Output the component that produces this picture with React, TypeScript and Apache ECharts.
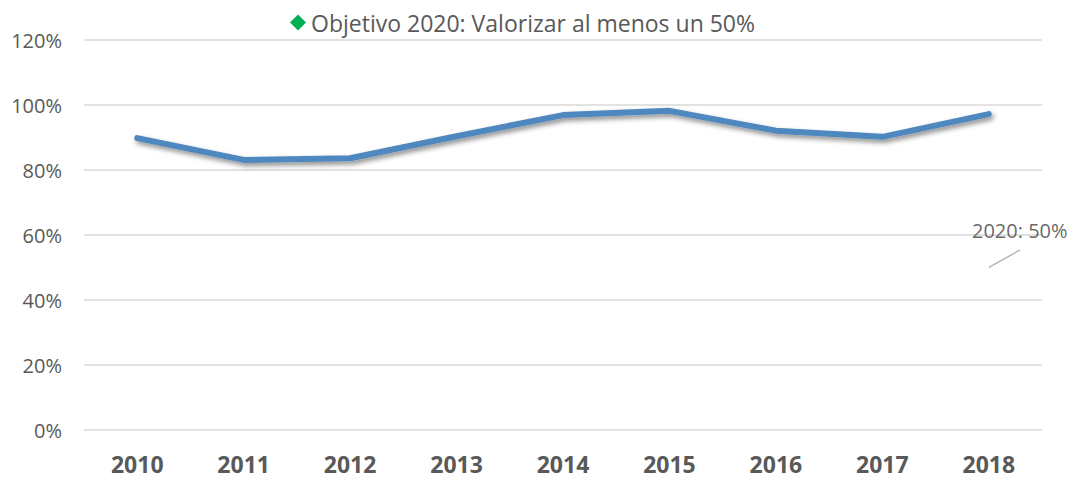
import React, { useEffect, useRef } from "react";
import * as echarts from "echarts";

const years = ["2010", "2011", "2012", "2013", "2014", "2015", "2016", "2017", "2018"];
const valorizacion = [89.8, 83.1, 83.6, 90.4, 96.9, 98.2, 92.1, 90.2, 97.2];
const objetivoName = "Objetivo 2020: Valorizar al menos un 50%";
const objetivo = [null, null, null, null, null, null, null, null, 50];
const yTicks = { min: 0, max: 120, interval: 20 };

export default function App() {
  const ref = useRef<HTMLDivElement>(null);
  useEffect(() => {
    document.body.style.margin = "0";
    const chart = echarts.init(ref.current!, null, { renderer: "svg" });
    const font = "'Open Sans', sans-serif";
    chart.setOption({
      animation: false,
      backgroundColor: "#ffffff",
      textStyle: { fontFamily: font },
      legend: {
        top: 6,
        left: 285,
        itemWidth: 16,
        itemHeight: 16,
        itemGap: 4,
        textStyle: { fontSize: 23, color: "#595959", fontFamily: font },
        data: [{ name: objetivoName, icon: "diamond", itemStyle: { color: "#00b050", opacity: 1 } }],
      },
      grid: { left: 84, right: 37, top: 40, bottom: 49, containLabel: false },
      xAxis: {
        type: "category",
        data: years,
        boundaryGap: true,
        axisLine: { show: false },
        axisTick: { show: false },
        axisLabel: { color: "#595959", fontSize: 23, fontWeight: "bold", margin: 22, fontFamily: font },
      },
      yAxis: {
        type: "value",
        min: yTicks.min,
        max: yTicks.max,
        interval: yTicks.interval,
        axisLabel: { formatter: "{value}%", color: "#595959", fontSize: 20, margin: 22, fontFamily: font },
        splitLine: { lineStyle: { color: "#d9d9d9", width: 1.5 } },
        axisLine: { show: false },
        axisTick: { show: false },
      },
      series: [
        {
          type: "line",
          name: "Valorización",
          data: valorizacion,
          symbol: "none",
          lineStyle: {
            color: "#4f87bf",
            width: 6,
            cap: "round",
            join: "round",
            shadowColor: "rgba(0,0,0,0.45)",
            shadowBlur: 5,
            shadowOffsetX: 2,
            shadowOffsetY: 3,
          },
        },
        {
          type: "scatter",
          name: objetivoName,
          data: objetivo,
          symbol: "diamond",
          symbolSize: 1,
          itemStyle: { color: "rgba(0,0,0,0)" },
          label: {
            show: true,
            position: "inside",
            formatter: "2020: 50%",
            color: "#404040",
            fontSize: 20,
            fontFamily: font,
          },
          labelLayout: { dx: 31, dy: -37 },
          markLine: {
            silent: true,
            symbol: ["none", "none"],
            label: { show: false },
            lineStyle: { color: "#a6a6a6", type: "solid", width: 1.2 },
            data: [[{ coord: [8, 50] }, { x: 1020, y: 250 }]],
          },
        },
      ],
    });
    return () => chart.dispose();
  }, []);
  return <div ref={ref} style={{ position: "fixed", left: 0, top: 0, width: 1079, height: 479 }} />;
}
